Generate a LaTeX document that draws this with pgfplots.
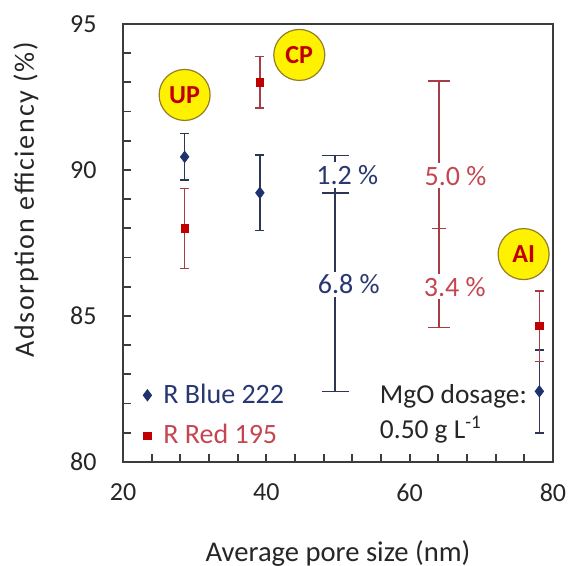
\documentclass[border=0pt]{standalone}
\usepackage{fontspec}
\setmainfont{Carlito}
\usepackage{pgfplots}
\pgfplotsset{compat=1.18}

\definecolor{bluemk}{RGB}{31,50,110}
\definecolor{bluebar}{RGB}{45,55,85}
\definecolor{redmk}{RGB}{192,0,0}
\definecolor{redbar}{RGB}{165,60,70}
\definecolor{bluetxt}{RGB}{40,55,115}
\definecolor{redtxt}{RGB}{195,70,80}
\definecolor{axisgray}{RGB}{60,60,60}
\definecolor{ringcol}{RGB}{150,125,40}

\begin{document}
\begin{tikzpicture}
  \begin{axis}[
    width=215pt, height=219pt,
    scale only axis,
    xmin=20, xmax=80,
    ymin=80, ymax=95,
    xtick={20,40,60,80},
    ytick={80,85,90,95},
    minor x tick num=4,
    minor y tick num=4,
    tick pos=left,
    tick align=inside,
    major tick length=4pt,
    minor tick length=4pt,
    axis line style={axisgray, line width=1pt},
    every tick/.style={axisgray, line width=0.9pt},
    /pgf/number format/assume math mode=true,
    tick label style={font=\fontsize{13}{15}\selectfont, color=black!85},
    yticklabel shift=9.7pt,
    xticklabel shift=7.5pt,
    xlabel={Average pore size (nm)},
    ylabel={Adsorption efficiency (\%)},
    xlabel style={font=\fontsize{14.3}{16}\selectfont, color=black!85,
      at={(axis description cs:0.5,-0.2078)}, anchor=center},
    ylabel style={font=\fontsize{14}{16}\selectfont\addfontfeatures{LetterSpace=6}, color=black!85,
      at={(axis description cs:-0.2256,0.598)}, anchor=center},
    legend style={at={(axis cs:22.4,82.82)}, anchor=north west,
      draw=none, fill=none, inner sep=0pt,
      font=\fontsize{14}{16}\selectfont,
      row sep=5pt,
      nodes={inner sep=2pt}},
    legend cell align=left,
    legend image code/.code={\path[draw=none, fill=none] (0pt,0pt) -- (9.4pt,0pt);
      \draw[#1] plot coordinates {(0.12cm,0cm)};},
    clip=false,
  ]
    % R Blue 222
    \addplot[only marks, mark=diamond*, mark size=2.8pt,
      color=bluemk, mark options={fill=bluemk},
      error bars/.cd, y dir=both, y explicit,
      error bar style={bluebar, line width=0.75pt},
      error mark options={bluebar, line width=0.75pt, mark size=2.3pt, rotate=90}]
      coordinates {(28.6,90.45) +- (0,0.80) (39.1,89.22) +- (0,1.30) (78.1,82.42) +- (0,1.42)};
    \addlegendentry{\textcolor{bluetxt}{R Blue 222}}

    % R Red 195
    \addplot[only marks, mark=square*, mark size=1.8pt,
      color=redmk, mark options={fill=redmk},
      error bars/.cd, y dir=both, y explicit,
      error bar style={redbar, line width=0.75pt},
      error mark options={redbar, line width=0.75pt, mark size=2.3pt, rotate=90}]
      coordinates {(28.6,88.00) +- (0,1.37) (39.1,93.00) +- (0,0.88) (78.1,84.65) +- (0,1.20)};
    \addlegendentry{\textcolor{redtxt}{R Red 195}}

    % spread of the blue values
    \addplot[forget plot, only marks, mark=-, mark size=6.75pt,
      color=bluebar, mark options={line width=0.75pt},
      error bars/.cd, y dir=both, y explicit,
      error bar style={bluebar, line width=0.75pt},
      error mark options={bluebar, line width=0.75pt, mark size=6.75pt, rotate=90}]
      coordinates {(49.6,89.22) += (0,1.27) -= (0,6.81)};

    % spread of the red values
    \addplot[forget plot, only marks, mark=-, mark size=3.3pt,
      color=redbar, mark options={line width=0.75pt},
      error bars/.cd, y dir=both, y explicit,
      error bar style={redbar, line width=0.75pt},
      error mark options={redbar, line width=0.75pt, mark size=5.5pt, rotate=90}]
      coordinates {(64.1,88.00) += (0,5.05) -= (0,3.40)};

    \begin{scope}[every node/.style={fill=white, inner sep=1.5pt,
        font=\fontsize{14}{16}\selectfont}]
      \node[text=bluetxt] at (axis cs:51.3,89.83) {1.2 \%};
      \node[text=bluetxt] at (axis cs:51.5,86.08) {6.8 \%};
      \node[text=redtxt] at (axis cs:66.4,89.80) {5.0 \%};
      \node[text=redtxt] at (axis cs:66.3,86.00) {3.4 \%};
    \end{scope}

    \begin{scope}[every node/.style={circle, fill=yellow, draw=ringcol,
        line width=0.6pt, minimum size=25.5pt, inner sep=0pt,
        text=redmk, font=\fontsize{13}{14}\selectfont\bfseries}]
      \node at (axis cs:28.6,92.57) {UP};
      \node at (axis cs:44.6,93.94) {CP};
      \node at (axis cs:75.9,87.12) {AI};
    \end{scope}

    \node[anchor=west, align=left, inner sep=0pt, text=black!85,
      font=\fontsize{13.7}{17.5}\selectfont] at (axis cs:55.8,81.65)
      {MgO dosage:\\0.50 g L\textsuperscript{-1}};
  \end{axis}
  \pgfresetboundingbox
  \path[use as bounding box] (-61.5pt,-52pt) rectangle (222.5pt,231pt);
\end{tikzpicture}
\end{document}
